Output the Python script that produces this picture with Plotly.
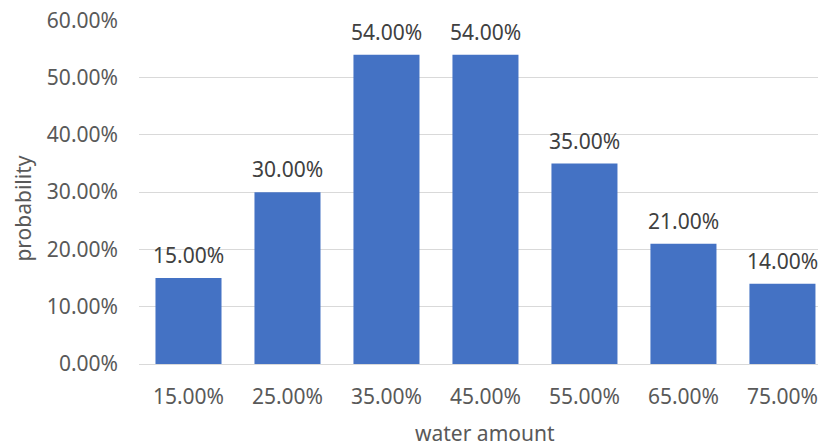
import plotly.graph_objects as go

categories = ["15.00%", "25.00%", "35.00%", "45.00%", "55.00%", "65.00%", "75.00%"]
probability = [0.15, 0.30, 0.54, 0.54, 0.35, 0.21, 0.14]
y_ticks = [0, 0.1, 0.2, 0.3, 0.4, 0.5, 0.6]
x_title = "water amount"
y_title = "probability"

font_family = "Noto Sans, Open Sans, sans-serif"
# page has 8px body margin; figure sized to fill remaining viewport
W, H = 818, 440
L, R, T, B = 130.5, 0, 12, 84

fig = go.Figure(go.Bar(
    x=categories, y=probability,
    marker=dict(color="#4472C4", line=dict(width=0)),
    cliponaxis=False,
))

for c, v in zip(categories, probability):
    fig.add_annotation(x=c, y=v, text=f"{v*100:.2f}%", showarrow=False,
                       yanchor="bottom", yshift=7,
                       font=dict(size=21, color="#404040", family=font_family))

# axis titles as paper annotations
fig.add_annotation(xref="paper", yref="paper", x=(477 - L) / (W - L - R), y=(H - B - 425) / (H - T - B),
                   text=x_title, showarrow=False, xanchor="center", yanchor="middle",
                   font=dict(size=21, color="#595959", family=font_family))
fig.add_annotation(xref="paper", yref="paper", x=(14 - L) / (W - L - R), y=(H - B - 201) / (H - T - B),
                   text=y_title, showarrow=False, textangle=-90, xanchor="center", yanchor="middle",
                   font=dict(size=21, color="#595959", family=font_family))

fig.update_layout(
    width=W, height=H,
    margin=dict(l=L, r=R, t=T, b=B),
    plot_bgcolor="white", paper_bgcolor="white",
    bargap=0.333, showlegend=False,
    font=dict(family=font_family, color="#595959", size=21),
    xaxis=dict(range=[-0.5, 6.44], automargin=False,
               showline=True, linecolor="#D9D9D9", linewidth=1, ticks="",
               ticklabelstandoff=14, ticklabeloverflow="allow",
               tickfont=dict(size=21, color="#595959")),
    yaxis=dict(range=[0, 0.6005], tickvals=y_ticks, tickformat=".2%", automargin=False,
               showgrid=True, gridcolor="#D9D9D9", gridwidth=1, zeroline=False,
               ticklabelstandoff=20, ticklabeloverflow="allow",
               tickfont=dict(size=21, color="#595959")),
)

fig.write_html("out.html")
